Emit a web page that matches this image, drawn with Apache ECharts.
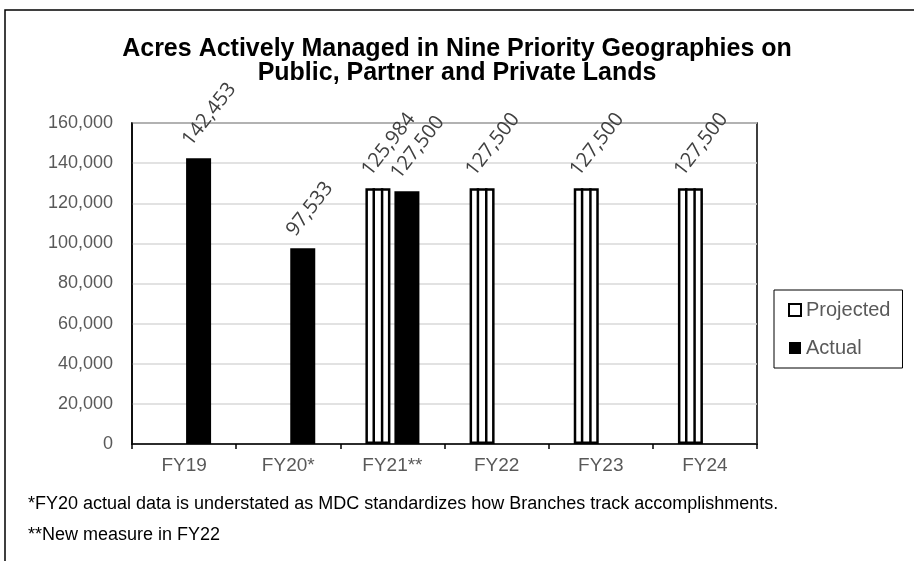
<!DOCTYPE html>
<html>
<head>
<meta charset="utf-8">
<script src="https://cdn.jsdelivr.net/npm/echarts@6/dist/echarts.min.js"></script>
<style>
html,body{margin:0;padding:0;background:#fff;}
#chart{width:914px;height:561px;}
</style>
</head>
<body>
<div id="chart"></div>
<script>
// ---- data ----
const categories = ['FY19', 'FY20*', 'FY21**', 'FY22', 'FY23', 'FY24'];
const projected = [null, null, 127500, 127500, 127500, 127500];
const actual = [142453, 97533, 125984, null, null, null];
// data label texts as printed in the reference (FY21 labels appear swapped there)
const projectedLabels = [null, null, '125,984', '127,500', '127,500', '127,500'];
const actualLabels = ['142,453', '97,533', '127,500', null, null, null];
const yTicks = [0, 20000, 40000, 60000, 80000, 100000, 120000, 140000, 160000];
const titleLines = ['Acres Actively Managed in Nine Priority Geographies on', 'Public, Partner and Private Lands'];
const footnotes = ['*FY20 actual data is understated as MDC standardizes how Branches track accomplishments.', '**New measure in FY22'];

const BAR_W = 25, GAP = 4;
const FONT = 'Liberation Sans, Arial, sans-serif';
const LABEL_FONT = 'Open Sans, Liberation Sans, sans-serif';

const chart = echarts.init(document.getElementById('chart'));

function labelCfg(texts) {
  return {
    show: true,
    position: 'top',
    distance: 4,
    rotate: 52,
    align: 'left',
    verticalAlign: 'middle',
    offset: [1, -16],
    color: '#404040',
    fontFamily: LABEL_FONT,
    fontSize: 20,
    formatter: p => texts[p.dataIndex] || ''
  };
}

const stripeData = projected.map((v, i) => v == null ? null : [i, v]).filter(d => d);

chart.setOption({
  animation: false,
  title: {
    text: titleLines.join('\n'),
    left: 'center',
    top: 32,
    textStyle: { fontFamily: FONT, fontSize: 25, fontWeight: 'bold', color: '#000', lineHeight: 24 }
  },
  legend: {
    orient: 'vertical',
    left: 774,
    top: 290,
    width: 130,
    borderColor: '#000',
    borderWidth: 1,
    padding: [10, 12, 10, 14],
    itemWidth: 12,
    itemHeight: 12,
    itemGap: 18,
    textStyle: { fontFamily: FONT, fontSize: 20, color: '#595959' },
    data: [
      { name: 'Projected', icon: 'rect', itemStyle: { color: '#fff', borderColor: '#000', borderWidth: 2 } },
      { name: 'Actual', icon: 'rect', itemStyle: { color: '#000' } }
    ]
  },
  grid: {
    left: 132, right: 157, top: 123, bottom: 117,
    show: true, borderColor: '#000', borderWidth: 1.5, backgroundColor: 'transparent'
  },
  xAxis: {
    type: 'category',
    data: categories,
    boundaryGap: true,
    axisLine: { lineStyle: { color: '#000', width: 1.5 } },
    axisTick: { show: true, length: 5, lineStyle: { color: '#000', width: 1.5 } },
    axisLabel: { fontFamily: FONT, fontSize: 19, color: '#595959', margin: 12 }
  },
  yAxis: {
    type: 'value',
    min: yTicks[0],
    max: yTicks[yTicks.length - 1],
    interval: yTicks[1] - yTicks[0],
    axisLine: { show: true, lineStyle: { color: '#000', width: 1.5 } },
    axisTick: { show: false },
    splitLine: { lineStyle: { color: '#d9d9d9', width: 1.5 } },
    axisLabel: {
      fontFamily: FONT, fontSize: 18, color: '#595959', margin: 19,
      formatter: v => v.toLocaleString('en-US')
    }
  },
  series: [
    {
      name: 'Projected',
      type: 'bar',
      data: projected,
      barWidth: BAR_W,
      barGap: (GAP / BAR_W * 100) + '%',
      itemStyle: { color: '#fff', borderColor: '#000', borderWidth: 2.5 },
      label: labelCfg(projectedLabels),
      z: 2
    },
    {
      name: 'Actual',
      type: 'bar',
      data: actual,
      barWidth: BAR_W,
      barGap: (GAP / BAR_W * 100) + '%',
      itemStyle: { color: '#000' },
      label: labelCfg(actualLabels),
      z: 2
    },
    {
      name: 'stripes',
      type: 'custom',
      silent: true,
      z: 3,
      data: stripeData,
      renderItem: function (params, api) {
        const base = api.coord([api.value(0), 0]);
        const top = api.coord([api.value(0), api.value(1)]);
        const start = base[0] - (2 * BAR_W + GAP) / 2;
        const children = [1, 2].map(k => ({
          type: 'line',
          shape: { x1: start + k * BAR_W / 3, y1: top[1], x2: start + k * BAR_W / 3, y2: base[1] },
          style: { stroke: '#000', lineWidth: 2.5 }
        }));
        return { type: 'group', children: children };
      }
    }
  ],
  graphic: [
    {
      type: 'rect',
      shape: { x: 5, y: 10, width: 2000, height: 2000 },
      style: { fill: 'none', stroke: '#000', lineWidth: 1.5 },
      silent: true
    },
    {
      type: 'text',
      left: 28, top: 495,
      style: { text: footnotes[0], fontFamily: FONT, fontSize: 18, fill: '#000' }
    },
    {
      type: 'text',
      left: 28, top: 526,
      style: { text: footnotes[1], fontFamily: FONT, fontSize: 18, fill: '#000' }
    }
  ]
});
</script>
</body>
</html>
